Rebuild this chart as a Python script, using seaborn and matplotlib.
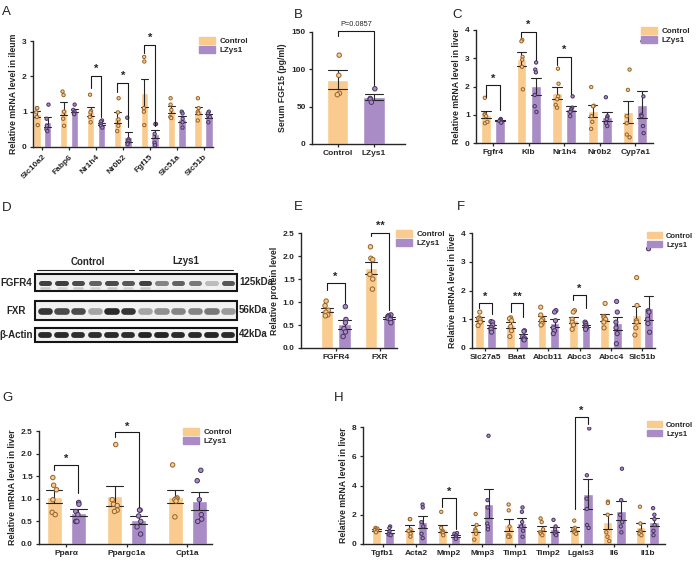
import numpy as np
import pandas as pd
import matplotlib
matplotlib.use("Agg")
import matplotlib.pyplot as plt
import seaborn as sns
from matplotlib.patches import Patch, Rectangle
from matplotlib.ticker import FormatStrFormatter

sns.set_style("ticks")
plt.rcParams["font.family"] = ["Liberation Sans", "DejaVu Sans"]
plt.rcParams["axes.linewidth"] = 1.0

CTRL = "#F9CB8F"
LZ = "#A98BC5"
CTRL_EDGE = "#94622A"
LZ_EDGE = "#47335F"

# ---- A: ileum mRNA ----
a_genes = ["Slc10a2", "Fabp6", "Nr1h4", "Nr0b2", "Fgf15", "Slc51a", "Slc51b"]
a_ctrl = [[1.1, 1.1, 0.98, 0.85, 0.62], [1.57, 1.47, 1.0, 0.8, 0.6], [1.48, 1.02, 0.98, 0.85, 0.7],
          [1.38, 0.98, 0.78, 0.6, 0.45], [2.55, 2.42, 1.1, 1.0, 0.62], [1.38, 1.2, 1.05, 0.85, 0.82],
          [1.38, 1.1, 1.0, 0.95, 0.75]]
a_lz = [[1.2, 0.8, 0.6, 0.5, 0.45], [1.2, 1.05, 1.0, 0.95, 0.93], [0.75, 0.72, 0.65, 0.6, 0.55],
        [0.83, 0.22, 0.18, 0.12, 0.08], [0.65, 0.65, 0.37, 0.12, 0.05], [1.0, 0.95, 0.8, 0.7, 0.55],
        [1.0, 0.95, 0.88, 0.85, 0.7]]

# ---- B: serum FGF15 ----
b_groups = ["Control", "LZys1"]
b_ctrl = [119, 92, 68, 66]
b_lz = [74, 61, 60, 56]

# ---- C: liver mRNA ----
c_genes = ["Fgfr4", "Klb", "Nr1h4", "Nr0b2", "Cyp7a1"]
c_ctrl = [[1.6, 1.02, 1.0, 0.95, 0.7, 0.75], [3.65, 3.6, 3.05, 2.95, 2.7, 1.9],
          [2.63, 2.1, 1.65, 1.55, 1.35, 1.25], [1.98, 1.32, 1.3, 0.95, 0.75, 0.5],
          [2.6, 1.88, 0.95, 0.7, 0.3, 0.2]]
c_lz = [[0.85, 0.82, 0.8, 0.78, 0.75, 0.72], [2.85, 2.6, 2.5, 1.7, 1.3, 1.1],
        [1.65, 1.25, 1.2, 1.15, 1.1, 0.95], [1.62, 0.95, 0.9, 0.85, 0.7, 0.6],
        [3.6, 1.65, 1.0, 0.95, 0.6, 0.35]]

# ---- D: western blot band intensities (0-1) ----
blot_rows = ["FGFR4", "FXR", "β-Actin"]
blot_kda = ["125kDa", "56kDa", "42kDa"]
fgfr4_bands = [0.85, 0.85, 0.8, 0.7, 0.8, 0.75, 0.85, 0.55, 0.7, 0.6, 0.3, 0.75]
fgfr4_faint = [0.25, 0.2, 0.25, 0.2, 0.25, 0.2, 0.25, 0.1, 0.1, 0.1, 0.05, 0.1]
fxr_bands = [0.9, 0.8, 0.8, 0.4, 0.95, 0.9, 0.4, 0.5, 0.55, 0.55, 0.6, 0.45]
actin_bands = [0.95, 0.95, 0.93, 0.93, 0.95, 0.93, 0.97, 0.97, 0.95, 0.95, 0.97, 0.95]

# ---- E: protein level ----
e_genes = ["FGFR4", "FXR"]
e_ctrl = [[1.02, 0.92, 0.82, 0.78, 0.72, 0.7], [2.2, 1.95, 1.92, 1.6, 1.5, 1.28]]
e_lz = [[0.9, 0.62, 0.55, 0.42, 0.35, 0.25], [0.72, 0.7, 0.68, 0.65, 0.62, 0.55]]

# ---- F: liver bile acid transport ----
f_genes = ["Slc27a5", "Baat", "Abcb11", "Abcc3", "Abcc4", "Slc51b"]
f_ctrl = [[1.25, 1.05, 1.02, 0.98, 0.9, 0.78], [1.05, 1.02, 0.95, 0.75, 0.6, 0.4],
          [1.42, 1.15, 1.0, 0.95, 0.85, 0.8], [1.3, 1.25, 1.0, 0.9, 0.8, 0.65],
          [1.55, 1.1, 1.05, 1.0, 0.9, 0.7], [2.45, 1.48, 0.95, 0.9, 0.7, 0.45]]
f_lz = [[0.92, 0.9, 0.8, 0.72, 0.65, 0.55], [0.6, 0.58, 0.4, 0.35, 0.3, 0.28],
        [1.3, 1.25, 0.95, 0.7, 0.6, 0.5], [0.9, 0.85, 0.78, 0.72, 0.7, 0.65],
        [1.62, 1.25, 0.9, 0.7, 0.5, 0.15], [3.45, 1.3, 1.25, 1.0, 0.85, 0.55]]

# ---- G: lipid oxidation ----
g_genes = ["Pparα", "Ppargc1a", "Cpt1a"]
g_ctrl = [[1.47, 1.3, 1.2, 0.98, 0.7, 0.65], [2.2, 0.98, 0.88, 0.85, 0.75, 0.72],
          [1.75, 1.02, 1.0, 0.98, 0.95, 0.6]]
g_lz = [[0.92, 0.88, 0.72, 0.65, 0.5, 0.5], [0.75, 0.75, 0.62, 0.5, 0.38, 0.22],
        [1.63, 1.4, 0.98, 0.65, 0.55, 0.5]]

# ---- H: fibrosis / inflammation ----
h_genes = ["Tgfb1", "Acta2", "Mmp2", "Mmp3", "Timp1", "Timp2", "Lgals3", "Il6", "Il1b"]
h_ctrl = [[1.1, 1.05, 1.0, 0.95, 0.9, 0.8], [1.7, 1.7, 1.0, 0.9, 0.7, 0.5],
          [2.2, 1.1, 0.9, 0.8, 0.75, 0.6], [2.05, 1.3, 1.0, 0.9, 0.7, 0.3],
          [2.7, 2.3, 1.2, 0.6, 0.5, 0.5], [1.75, 1.5, 1.0, 0.8, 0.7, 0.6],
          [1.6, 1.1, 1.0, 0.9, 0.8, 0.7], [2.9, 2.8, 2.0, 0.8, 0.5, 0.2],
          [2.55, 1.4, 0.9, 0.8, 0.7, 0.6]]
h_lz = [[1.2, 1.1, 0.85, 0.7, 0.65, 0.6], [2.7, 2.5, 1.5, 1.2, 0.7, 0.4],
        [0.75, 0.7, 0.6, 0.5, 0.45, 0.35], [7.4, 3.0, 2.5, 1.4, 1.2, 1.0],
        [2.5, 2.2, 1.5, 1.2, 0.9, 0.5], [1.65, 1.2, 1.0, 0.8, 0.7, 0.6],
        [7.9, 4.7, 3.1, 2.4, 1.3, 1.1], [5.15, 3.0, 2.0, 1.5, 1.2, 0.8],
        [2.45, 2.0, 1.7, 1.3, 0.9, 0.6]]

W, H = 697, 561
np.random.seed(3)
fig = plt.figure(figsize=(W / 100, H / 100), dpi=100)

# overlay in pixel coordinates for letters and the blot
ov = fig.add_axes([0, 0, 1, 1])
ov.set_xlim(0, W)
ov.set_ylim(H, 0)
ov.axis("off")


def add_ax(x0, y0, x1, y1):
    return fig.add_axes([x0 / W, 1 - y1 / H, (x1 - x0) / W, (y1 - y0) / H])


def long_df(genes, ctrl, lz, names):
    rows = []
    for g, c, l in zip(genes, ctrl, lz):
        rows += [(g, names[0], v) for v in c]
        rows += [(g, names[1], v) for v in l]
    return pd.DataFrame(rows, columns=["gene", "group", "value"])


def style_ax(ax, xlim, ylim, yticks, ylabel, fmt=None, rot=0):
    ax.set_xlim(*xlim)
    ax.set_ylim(*ylim)
    ax.set_yticks(yticks)
    if fmt:
        ax.yaxis.set_major_formatter(FormatStrFormatter(fmt))
    ax.set_xlabel("")
    ax.set_ylabel(ylabel, fontsize=6.3, fontweight="bold", labelpad=3)
    ax.tick_params(labelsize=6, width=0.9, length=2.5, pad=2)
    for lbl in ax.get_xticklabels() + ax.get_yticklabels():
        lbl.set_fontweight("bold")
    if rot:
        for lbl in ax.get_xticklabels():
            lbl.set_rotation(rot)
            lbl.set_ha("right")
            lbl.set_rotation_mode("anchor")
    sns.despine(ax=ax)


def color_points(ax):
    for coll in ax.collections:
        fc = coll.get_facecolor()
        if len(fc) == 0:
            continue
        is_ctrl = np.allclose(fc[0][:3], matplotlib.colors.to_rgb(CTRL), atol=0.02)
        coll.set_edgecolor(CTRL_EDGE if is_ctrl else LZ_EDGE)
        coll.set_linewidth(0.7)


def bar_panel(ax, genes, ctrl, lz, names, gap=0.3, ms=2.8):
    df = long_df(genes, ctrl, lz, names)
    pal = {names[0]: CTRL, names[1]: LZ}
    sns.barplot(data=df, x="gene", y="value", hue="group", order=genes, hue_order=names,
                palette=pal, errorbar="se", capsize=0.55, saturation=1, width=0.8, gap=gap,
                err_kws={"color": "#262626", "linewidth": 0.8}, legend=False, ax=ax)
    sns.stripplot(data=df, x="gene", y="value", hue="group", order=genes, hue_order=names,
                  palette=pal, dodge=True, jitter=0.09, size=ms, legend=False, ax=ax, zorder=4)
    color_points(ax)


def add_legend(ax, names, x, y, fs=5.8):
    handles = [Patch(color=CTRL, label=names[0]), Patch(color=LZ, label=names[1])]
    ax.legend(handles=handles, loc="upper left", bbox_to_anchor=(x / W, 1 - y / H),
              bbox_transform=fig.transFigure, frameon=False, prop={"weight": "bold", "size": fs},
              handlelength=2.0, handleheight=0.9, labelspacing=0.15, borderpad=0,
              handletextpad=0.5, borderaxespad=0)


def sig(ax, i, ytop, yl, yr, text, ystar, half=0.2):
    ax.plot([i - half, i - half, i + half, i + half], [yl, ytop, ytop, yr],
            color="#1a1a1a", lw=0.8, clip_on=False, zorder=5)
    ax.text(i, ystar, text, ha="center", va="center", fontsize=8, fontweight="bold", clip_on=False)


# ---- A ----
axA = add_ax(33, 41, 213, 147)
bar_panel(axA, a_genes, a_ctrl, a_lz, ("Control", "LZys1"), ms=2.4)
style_ax(axA, (-0.34, 6.35), (0, 3), [0, 1, 2, 3], "Relative mRNA level in ileum", rot=45)
add_legend(axA, ("Control", "LZys1"), 199, 37)
sig(axA, 2, 2.0, 1.68, 0.85, "*", 2.2)
sig(axA, 3, 1.82, 1.56, 0.57, "*", 2.0)
sig(axA, 4, 2.88, 2.65, 0.6, "*", 3.08)

# ---- B ----
axB = add_ax(312, 32, 405, 144)
dfB = pd.DataFrame({"group": ["Control"] * len(b_ctrl) + ["LZys1"] * len(b_lz),
                    "value": b_ctrl + b_lz})
palB = {"Control": CTRL, "LZys1": LZ}
sns.barplot(data=dfB, x="group", y="value", hue="group", order=b_groups, palette=palB,
            errorbar="se", capsize=0.5, saturation=1, width=0.58,
            err_kws={"color": "#262626", "linewidth": 0.8}, legend=False, ax=axB)
sns.stripplot(data=dfB, x="group", y="value", hue="group", order=b_groups, palette=palB,
              jitter=0.12, size=3.2, legend=False, ax=axB, zorder=4)
color_points(axB)
style_ax(axB, (-0.7, 1.85), (0, 150), [0, 50, 100, 150], "Serum FGF15 (pg/ml)")
axB.plot([0, 0, 1, 1], [145, 152, 152, 79], color="#1a1a1a", lw=0.8, clip_on=False)
axB.text(0.5, 160, "P=0.0857", ha="center", va="center", fontsize=5.3, clip_on=False)

# ---- C ----
axC = add_ax(476, 30, 653, 143)
bar_panel(axC, c_genes, c_ctrl, c_lz, ("Control", "LZys1"), ms=2.4)
style_ax(axC, (-0.48, 4.5), (0, 4), [0, 1, 2, 3, 4], "Relative mRNA level in liver")
add_legend(axC, ("Control", "LZys1"), 641, 27)
sig(axC, 0, 2.05, 1.63, 1.16, "*", 2.27)
sig(axC, 1, 3.94, 3.76, 2.93, "*", 4.17)
sig(axC, 2, 3.05, 2.76, 1.75, "*", 3.28)

# ---- D: blot drawn in pixel space ----
box_x0, box_x1 = 35, 237
boxes = [(274, 291), (301, 320), (328, 342)]
band_h = [3.6, 4.8, 4.2]
lanes = np.linspace(box_x0 + 10, box_x1 - 9, 12)
for (y0, y1), name, kda, bands, bh in zip(boxes, blot_rows, blot_kda,
                                          [fgfr4_bands, fxr_bands, actin_bands], band_h):
    ov.add_patch(Rectangle((box_x0, y0), box_x1 - box_x0, y1 - y0, facecolor="#f1f1f1",
                           edgecolor="#151515", lw=1.5))
    yc = (y0 + y1) / 2
    for xl, inten in zip(lanes, bands):
        g = 1 - 0.88 * inten
        ov.plot([xl - 4.2, xl + 4.2], [yc, yc], color=(g, g, g), lw=bh, solid_capstyle="round")
    ov.text(16.5, yc, name, ha="center", va="center", fontsize=7, fontweight="bold")
    ov.text(239, yc - 1, kda, ha="left", va="center", fontsize=7, fontweight="bold")
for xl, inten in zip(lanes, fgfr4_faint):
    g = 1 - 0.88 * inten
    ov.plot([xl - 4, xl + 4], [288, 288], color=(g, g, g), lw=1.8, solid_capstyle="round")
ov.plot([37, 134], [270, 270], color="#222222", lw=0.8)
ov.plot([139, 233], [270, 270], color="#222222", lw=0.8)
ov.text(88, 262, "Control", ha="center", va="center", fontsize=7, fontweight="bold")
ov.text(186, 261, "Lzys1", ha="center", va="center", fontsize=7, fontweight="bold")

# ---- E ----
axE = add_ax(301, 233, 397, 348)
bar_panel(axE, e_genes, e_ctrl, e_lz, ("Control", "LZys1"), ms=3.2)
style_ax(axE, (-0.78, 1.38), (0, 2.5), [0, 0.5, 1.0, 1.5, 2.0, 2.5], "Relative protein level",
         fmt="%.1f")
add_legend(axE, ("Control", "LZys1"), 396, 230)
sig(axE, 0, 1.42, 1.26, 0.97, "*", 1.55)
sig(axE, 1, 2.51, 2.43, 0.82, "**", 2.66)

# ---- F ----
axF = add_ax(472, 233, 655, 348)
bar_panel(axF, f_genes, f_ctrl, f_lz, ("Control", "Lzys1"), ms=3.0)
style_ax(axF, (-0.43, 5.4), (0, 4), [0, 1, 2, 3, 4], "Relative mRNA level in liver")
add_legend(axF, ("Control", "Lzys1"), 647, 232, fs=5.5)
sig(axF, 0, 1.57, 1.38, 1.2, "*", 1.78)
sig(axF, 1, 1.55, 1.26, 1.08, "**", 1.77)
sig(axF, 3, 1.84, 1.67, 1.38, "*", 2.05)

# ---- G ----
axG = add_ax(39, 431, 212, 544)
bar_panel(axG, g_genes, g_ctrl, g_lz, ("Control", "LZys1"), gap=0.38, ms=3.2)
style_ax(axG, (-0.45, 2.41), (0, 2.5), [0, 0.5, 1.0, 1.5, 2.0, 2.5], "Relative mRNA level in liver",
         fmt="%.1f")
add_legend(axG, ("Control", "LZys1"), 183, 428)
sig(axG, 0, 1.75, 1.63, 1.12, "*", 1.89)
sig(axG, 1, 2.47, 2.37, 0.82, "*", 2.6)

# ---- H ----
axH = add_ax(363, 427, 665, 544)
bar_panel(axH, h_genes, h_ctrl, h_lz, ("Control", "Lzys1"), ms=2.4)
style_ax(axH, (-0.6, 8.53), (0, 8), [0, 2, 4, 6, 8], "Relative mRNA level in liver")
add_legend(axH, ("Control", "Lzys1"), 647, 421, fs=5.5)
sig(axH, 2, 3.14, 2.53, 1.05, "*", 3.55)
sig(axH, 6, 8.65, 2.4, 8.2, "*", 9.1)

# panel letters
for letter, x, y in [("A", 2, 12), ("B", 294, 15), ("C", 452, 15), ("D", 2, 208),
                     ("E", 294, 207), ("F", 457, 207), ("G", 2, 398), ("H", 334, 398)]:
    ov.text(x, y, letter, ha="left", va="center", fontsize=9.5, color="#222222")

fig.savefig("out.png", dpi=100)
